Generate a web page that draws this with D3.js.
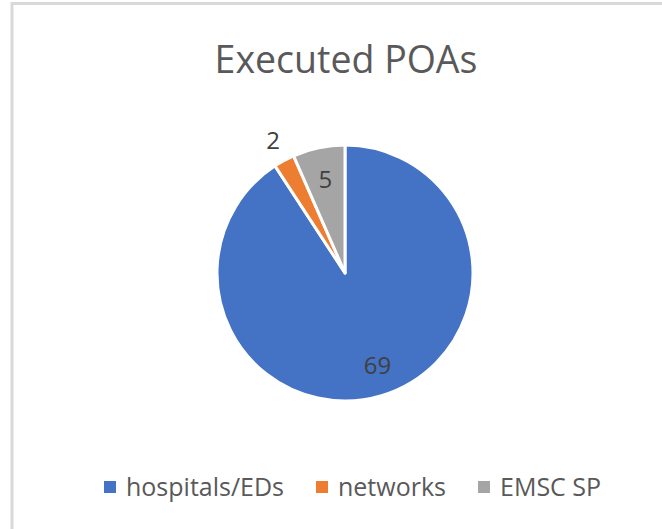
<!DOCTYPE html>
<html><head><meta charset="utf-8">
<script src="https://cdn.jsdelivr.net/npm/d3@7"></script>
<style>body{margin:0;background:#fff;}svg{display:block;}</style>
</head><body>
<script>
const categories = ["hospitals/EDs", "networks", "EMSC SP"];
const values = [69, 2, 5];
const colors = ["#4472C4", "#ED7D31", "#A5A5A5"];
const title = "Executed POAs";

const W = 662, H = 529;
const svg = d3.select("body").append("svg").attr("width", W).attr("height", H);
svg.append("rect").attr("width", W).attr("height", H).attr("fill", "#fff");
svg.append("rect").attr("x", 12).attr("y", 3.5).attr("width", 700).attr("height", 600)
  .attr("fill", "none").attr("stroke", "#d9d9d9").attr("stroke-width", 3);

const font = "'Open Sans', 'Noto Sans', sans-serif";
svg.append("text").attr("x", 346).attr("y", 73).attr("text-anchor", "middle")
  .attr("font-family", font).attr("font-size", 37.5).attr("fill", "#595959").text(title);

const cx = 345, cy = 273, r = 128;
const data = categories.map((c, i) => ({cat: c, value: values[i], color: colors[i]}));
const pie = d3.pie().sort(null).value(d => d.value);
const arcs = pie(data);
const arc = d3.arc().innerRadius(0).outerRadius(r);
const inLabel = d3.arc().innerRadius(r * 0.75).outerRadius(r * 0.75);
const outLabel = d3.arc().innerRadius(r * 1.18).outerRadius(r * 1.18);
const total = d3.sum(values);

const g = svg.append("g").attr("transform", `translate(${cx},${cy})`);
g.selectAll("path").data(arcs).join("path")
  .attr("d", arc).attr("fill", d => d.data.color)
  .attr("stroke", "#fff").attr("stroke-width", 3).attr("stroke-linejoin", "round");

g.selectAll("text.lbl").data(arcs).join("text").attr("class", "lbl")
  .attr("transform", d => {
    const [x, y] = (d.data.value / total < 0.05 ? outLabel : inLabel).centroid(d);
    return `translate(${x + (d.data.value / total > 0.5 ? 5 : 0)},${y})`;
  })
  .attr("text-anchor", "middle").attr("dy", "0.36em")
  .attr("font-family", font).attr("font-size", 24).attr("fill", "#404040")
  .text(d => d.data.value);

// legend
const legendX = [104, 316, 478];
const lg = svg.append("g");
data.forEach((d, i) => {
  lg.append("rect").attr("x", legendX[i]).attr("y", 481).attr("width", 12).attr("height", 12).attr("fill", d.color);
  lg.append("text").attr("x", legendX[i] + 22).attr("y", 496)
    .attr("font-family", font).attr("font-size", 25).attr("fill", "#595959").text(d.cat);
});
</script>
</body></html>
